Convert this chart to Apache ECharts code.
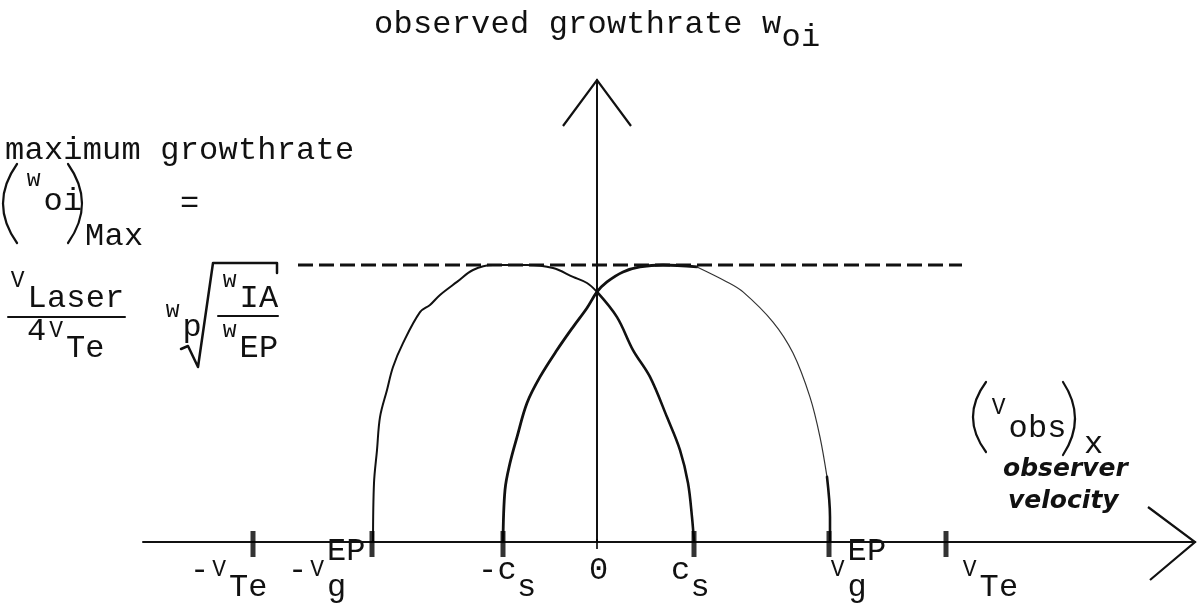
<!DOCTYPE html>
<html>
<head>
<meta charset="utf-8">
<script src="https://cdn.jsdelivr.net/npm/echarts@6/dist/echarts.min.js"></script>
<style>
  html, body { margin: 0; padding: 0; background: #fff; }
  #chart { width: 1198px; height: 606px; }
</style>
</head>
<body>
<div id="chart"></div>
<script>
// Observer velocity (horizontal) vs observed growth rate (vertical), normalized to the maximum growth rate.
const xRange = [-4.54, 5.98];
const yRange = [0, 1.668];
const maxGrowth = 1.0;
const dashedSpan = [-2.99, 3.65];

// characteristic velocities on the horizontal axis
const xTicks = [-3.44, -2.25, -0.94, 0, 0.97, 2.32, 3.49];
// markup: _{..} subscript, ^{..} superscript, ! marks a small (raised) letter
const xTickLabels = ['-!V_{Te}', '-!V_{g}^{EP}', '-c_{s}', '0', 'c_{s}', '!V_{g}^{EP}', '!V_{Te}'];

// branch starting at -V_g^EP, peaking left of 0, ending at c_s
const curveA = [
  [-2.24, 0], [-2.23, 0.213], [-2.20, 0.332], [-2.17, 0.451], [-2.10, 0.549], [-2.04, 0.632],
  [-1.94, 0.718], [-1.77, 0.830], [-1.67, 0.856], [-1.57, 0.892], [-1.40, 0.939], [-1.24, 0.982],
  [-1.04, 1.0], [-0.70, 1.0], [-0.44, 0.989], [-0.24, 0.957], [-0.10, 0.935], [0, 0.903],
  [0.20, 0.812], [0.36, 0.693], [0.53, 0.596], [0.70, 0.451], [0.83, 0.332], [0.91, 0.213],
  [0.95, 0.090], [0.97, 0]
];
// branch starting at -c_s, peaking right of 0, ending at V_g^EP
const curveB = [
  [-0.94, 0], [-0.92, 0.188], [-0.87, 0.285], [-0.80, 0.379], [-0.70, 0.502], [-0.57, 0.596],
  [-0.40, 0.693], [-0.24, 0.776], [-0.10, 0.845], [0, 0.903], [0.10, 0.939], [0.26, 0.975],
  [0.43, 0.993], [0.66, 1.0], [1.00, 0.993], [1.30, 0.939], [1.46, 0.903], [1.76, 0.794],
  [1.96, 0.682], [2.13, 0.523], [2.23, 0.379], [2.30, 0.235], [2.33, 0.090], [2.33, 0]
];

// ---- typography ----
const INK = '#111';
const FONT = '"Liberation Mono", "Courier New", monospace';
const F_N = 32, F_S = 23, ADV = 19.4;
// horizontal placement of each tick label's first cell, relative to its tick
const tickLabelShift = [-63, -84, -25, -8, -23, -1, 14];

function glyph(ch, x, baseline, size) {
  return {
    type: 'text', silent: true,
    style: {
      text: ch, x: x, y: baseline - 0.267 * size,
      font: size + 'px ' + FONT, fill: INK,
      align: 'center', verticalAlign: 'middle',
      textAlign: 'center', textVerticalAlign: 'middle'
    }
  };
}

// typewriter layout: every character takes one fixed-width cell
function typeset(markup, x0, base, opt) {
  const o = Object.assign({ adv: ADV, sub: 18, sup: -19, rise: -3 }, opt || {});
  const out = [];
  let cur = 0, i = 0, scriptStart = null, scriptEnd = -1;
  const put = (ch, cell, bl, size) => {
    if (ch !== ' ') out.push(glyph(ch, x0 + (cell + 0.5) * o.adv, bl, size));
  };
  while (i < markup.length) {
    const c = markup[i];
    if ((c === '_' || c === '^') && markup[i + 1] === '{') {
      const end = markup.indexOf('}', i);
      const grp = markup.slice(i + 2, end);
      const start = (scriptEnd === i) ? scriptStart : cur;
      const shift = c === '_' ? o.sub : o.sup;
      for (let k = 0; k < grp.length; k++) put(grp[k], start + k, base + shift, F_N);
      cur = Math.max(cur, start + grp.length);
      scriptStart = start; i = end + 1; scriptEnd = i;
      continue;
    }
    if (c === '!') { put(markup[i + 1], cur, base + o.rise, F_S); cur++; i += 2; continue; }
    put(c, cur, base, F_N); cur++; i++;
  }
  return out;
}

function seg(points, width) {
  return {
    type: 'polyline', silent: true,
    shape: { points: points },
    style: { stroke: INK, lineWidth: width, fill: null, lineCap: 'round', lineJoin: 'round' }
  };
}

// hand-drawn bracket: end points at (x, top) and (x, bottom), bulging to x + bulge
function paren(x, top, bottom, bulge) {
  return {
    type: 'bezierCurve', silent: true,
    shape: { x1: x, y1: top, x2: x, y2: bottom, cpx1: x + 2 * bulge, cpy1: (top + bottom) / 2 },
    style: { stroke: INK, lineWidth: 2.2, fill: null, lineCap: 'round' }
  };
}

function lineSeries(data, width, color) {
  return {
    type: 'line', data: data, smooth: 0.35, symbol: 'none', silent: true,
    lineStyle: { color: color || INK, width: width, cap: 'round', join: 'round' },
    z: 3
  };
}

function hand(text, x, y) {
  return {
    type: 'text', silent: true,
    style: {
      text: text, x: x, y: y, fill: INK,
      font: 'italic bold 25px "DejaVu Sans", sans-serif',
      align: 'left', verticalAlign: 'bottom', textAlign: 'left', textVerticalAlign: 'bottom'
    }
  };
}

// ---- free annotations (title and left / right formulas) ----
const annotations = [].concat(
  typeset('observed growthrate w_{oi}', 374, 33, { sub: 13 }),
  typeset('maximum growthrate', 5, 159),
  [paren(17, 164, 243, -14), paren(68, 164, 243, 14)],
  typeset('!w_{oi}', 24, 189, { sub: 21 }),
  typeset('Max', 85, 245),
  typeset('=', 180, 212),
  typeset('!V_{Laser}', 8, 290, { sub: 17 }),
  [seg([[8, 317], [125, 317]], 2)],
  typeset('4!V_{Te}', 27, 340, { sub: 17 }),
  typeset('!w_{p}', 163, 320, { sub: 16 }),
  [seg([[181, 349], [188, 346], [198, 367], [213, 263], [277, 263], [277, 273]], 2.5)],
  typeset('!w_{IA}', 220, 290, { sub: 17 }),
  [seg([[218, 316], [278, 316]], 2)],
  typeset('!w_{EP}', 220, 340, { sub: 17 }),
  [paren(986, 382, 452, -13), paren(1063, 382, 455, 12)],
  typeset('!V_{obs}', 989, 417, { sub: 20 }),
  typeset('x', 1084, 453),
  [hand('observer', 1003, 482), hand('velocity', 1008, 514)]
);

const chart = echarts.init(document.getElementById('chart'), null, { renderer: 'canvas' });

chart.setOption({
  backgroundColor: '#fff',
  animation: false,
  grid: { left: 143, right: 3, top: 80, bottom: 64 },
  xAxis: {
    type: 'value', min: xRange[0], max: xRange[1],
    axisLine: { show: true, onZero: false, lineStyle: { color: INK, width: 2 } },
    axisTick: { show: false }, axisLabel: { show: false }, splitLine: { show: false }
  },
  yAxis: {
    type: 'value', min: yRange[0], max: yRange[1],
    axisLine: { show: true, onZero: true, lineStyle: { color: INK, width: 2 } },
    axisTick: { show: false }, axisLabel: { show: false }, splitLine: { show: false }
  },
  graphic: { elements: annotations },
  series: [
    // maximum growth rate level
    {
      type: 'line', silent: true, symbol: 'none',
      data: [[dashedSpan[0], maxGrowth], [dashedSpan[1], maxGrowth]],
      lineStyle: { color: INK, width: 3, type: [15, 6] }, z: 2
    },
    lineSeries(curveA.slice(0, 18), 2),
    lineSeries(curveA.slice(17), 2.6),
    lineSeries(curveB.slice(0, 15), 2.8),
    lineSeries(curveB.slice(14, 22), 1.2, '#333'),
    lineSeries(curveB.slice(21), 2.6),
    // tick marks on the velocity axis
    {
      type: 'scatter', silent: true, clip: false,
      data: xTicks.map(x => [x, 0]),
      symbol: 'rect',
      symbolSize: v => (v[0] === 0 ? [2, 10] : [5, 26]),
      symbolOffset: [0, 2],
      itemStyle: { color: '#000' }, z: 4
    },
    // tick labels
    {
      type: 'custom', silent: true, clip: false,
      data: xTicks.map((x, i) => [x, 0, i]),
      renderItem: (params, api) => {
        const idx = api.value(2);
        const p = api.coord([api.value(0), 0]);
        return { type: 'group', children: typeset(xTickLabels[idx], p[0] + tickLabelShift[idx], p[1] + 37, { sub: 17 }) };
      },
      z: 5
    },
    // open arrowheads at the ends of both axes
    {
      type: 'custom', silent: true, clip: false,
      data: [[xRange[1], 0, 0], [0, yRange[1], 1]],
      renderItem: (params, api) => {
        const p = api.coord([api.value(0), api.value(1)]);
        const pts = api.value(2) === 0
          ? [[p[0] - 47, p[1] - 35], p, [p[0] - 45, p[1] + 38]]
          : [[p[0] - 34, p[1] + 46], p, [p[0] + 34, p[1] + 46]];
        return { type: 'polyline', shape: { points: pts }, style: { stroke: INK, lineWidth: 2.2, fill: null } };
      },
      z: 5
    }
  ]
});
</script>
</body>
</html>
